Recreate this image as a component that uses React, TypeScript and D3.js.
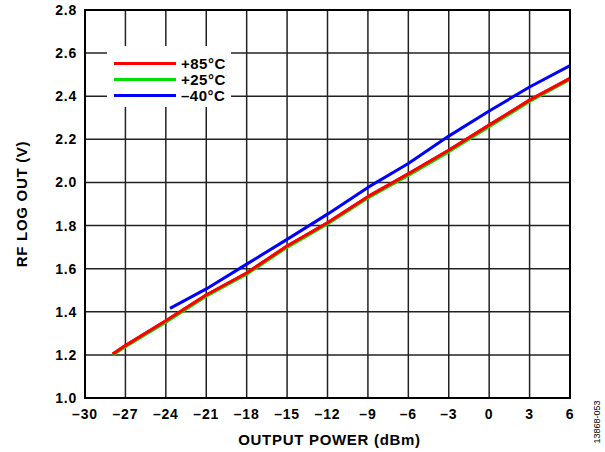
import React from "react";
import * as d3 from "d3";

const xTicks = [-30, -27, -24, -21, -18, -15, -12, -9, -6, -3, 0, 3, 6];
const yTicks = [1.0, 1.2, 1.4, 1.6, 1.8, 2.0, 2.2, 2.4, 2.6, 2.8];

const redX = [-27.94, -27, -24, -21, -18, -15, -12, -9, -6, -3, 0, 3, 6];
const redY = [1.204, 1.243, 1.358, 1.478, 1.58, 1.705, 1.813, 1.934, 2.04, 2.149, 2.266, 2.382, 2.483];
const greenX = [-27.94, -27, -24, -21, -18, -15, -12, -9, -6, -3, 0, 3, 6];
const greenY = [1.2, 1.238, 1.352, 1.472, 1.574, 1.699, 1.807, 1.928, 2.033, 2.142, 2.259, 2.376, 2.478];
const blueX = [-23.69, -21, -18, -15, -12, -9, -6, -3, 0, 3, 6];
const blueY = [1.416, 1.506, 1.621, 1.736, 1.853, 1.977, 2.088, 2.215, 2.331, 2.443, 2.542];

const legendLabels = ["+85°C", "+25°C", "\u201340°C"];
const colors = ["#ff0000", "#00e000", "#0000ff"];

const fmtX = (v: number) => (v < 0 ? "\u2013" + Math.abs(v) : String(v));

export default function App() {
  const W = 605, H = 452;
  const L = 85, R = 570, T = 10, B = 398;
  const x = d3.scaleLinear().domain([-30, 6]).range([L, R]);
  const y = d3.scaleLinear().domain([1.0, 2.8]).range([B, T]);
  const line = d3.line<[number, number]>().x((d) => x(d[0])).y((d) => y(d[1]));
  const series = [
    redX.map((v, i) => [v, redY[i]] as [number, number]),
    greenX.map((v, i) => [v, greenY[i]] as [number, number]),
    blueX.map((v, i) => [v, blueY[i]] as [number, number]),
  ];
  const font = "'Liberation Sans', Arial, sans-serif";
  const lg = { x0: 107, x1: 231, y0: 46, y1: 107 };
  return (
    <svg width={W} height={H} style={{ position: "absolute", left: 0, top: 0 }} fontFamily={font}>
      <rect width={W} height={H} fill="#fff" />
      {xTicks.slice(1, -1).map((t) => (
        <line key={"gx" + t} x1={x(t)} x2={x(t)} y1={T} y2={B} stroke="#222" strokeWidth={1.5} />
      ))}
      {yTicks.slice(1, -1).map((t) => (
        <line key={"gy" + t} x1={L} x2={R} y1={y(t)} y2={y(t)} stroke="#222" strokeWidth={1.5} />
      ))}
      <rect x={lg.x0} y={lg.y0} width={lg.x1 - lg.x0} height={lg.y1 - lg.y0} fill="#fff" />
      {series.map((s, i) => (
        <path key={"s" + i} d={line(s) || ""} fill="none" stroke={colors[i]} strokeWidth={3} strokeLinejoin="round" />
      ))}
      <path d={line(series[0]) || ""} fill="none" stroke={colors[0]} strokeWidth={3} strokeLinejoin="round" />
      {legendLabels.map((lab, i) => (
        <g key={lab}>
          <line x1={114} x2={176} y1={63.5 + i * 16} y2={63.5 + i * 16} stroke={colors[i]} strokeWidth={3} />
          <text x={181} y={63.5 + i * 16} dy="0.36em" fontSize={15} fontWeight="bold" letterSpacing={0.5}>
            {lab}
          </text>
        </g>
      ))}
      <rect x={L} y={T} width={R - L} height={B - T} fill="none" stroke="#000" strokeWidth={2} />
      {xTicks.map((t) => (
        <text key={"tx" + t} x={x(t)} y={418.5} textAnchor="middle" fontSize={14} fontWeight="bold" letterSpacing={0.8}>
          {fmtX(t)}
        </text>
      ))}
      {yTicks.map((t) => (
        <text key={"ty" + t} x={77} y={y(t)} dy="0.36em" textAnchor="end" fontSize={14} fontWeight="bold" letterSpacing={0.8}>
          {t.toFixed(1)}
        </text>
      ))}
      <text x={(L + R) / 2 + 2} y={445} textAnchor="middle" fontSize={15} fontWeight="bold" letterSpacing={0.7}>
        OUTPUT POWER (dBm)
      </text>
      <text transform={`translate(26.5,${(T + B) / 2}) rotate(-90)`} textAnchor="middle" fontSize={15} fontWeight="bold" letterSpacing={0.7}>
        RF LOG OUT (V)
      </text>
      <text transform={`translate(600,422) rotate(-90)`} textAnchor="middle" fontSize={9}>
        13868-053
      </text>
    </svg>
  );
}
